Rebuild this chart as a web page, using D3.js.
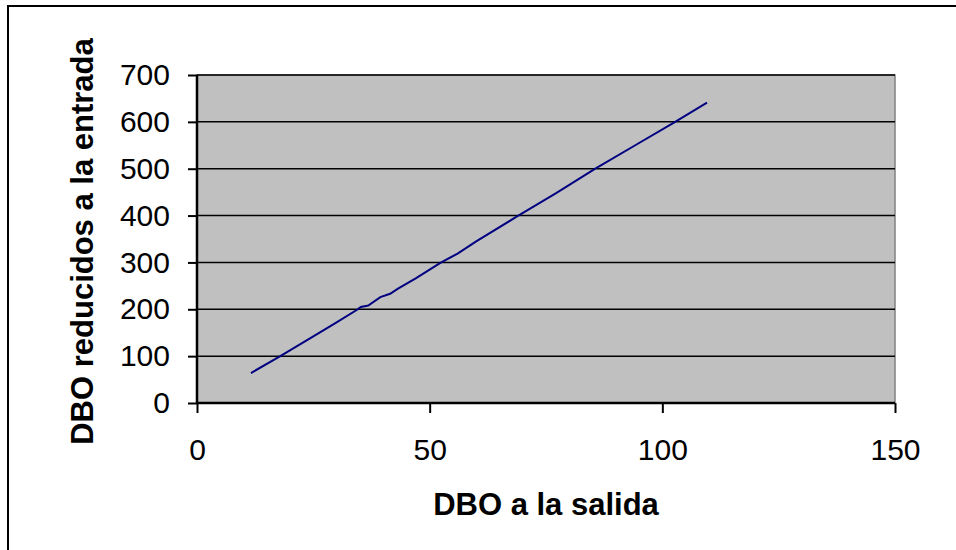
<!DOCTYPE html>
<html>
<head>
<meta charset="utf-8">
<script src="https://cdn.jsdelivr.net/npm/d3@7/dist/d3.min.js"></script>
<style>
  html, body { margin: 0; padding: 0; background: #fff; }
  svg { display: block; font-family: Arial, "Liberation Sans", sans-serif; }
</style>
</head>
<body>
<svg id="chart" width="956" height="550"></svg>
<script>
// DBO at the outlet (x) vs. DBO removed at the inlet (y)
const dboSalida = [11.6, 17.9, 25, 30, 34.4, 35.2, 36.8, 39.4, 41.5, 43.2, 47, 52.3, 56, 60, 68.6, 77, 85.6, 94, 102.4, 109.6];
const dboReducidos = [64, 100, 142, 172, 199, 205, 208, 226, 233, 244, 266, 299, 319, 345, 397, 447, 500, 549, 598, 641];
const xTicks = [0, 50, 100, 150];
const yTicks = [0, 100, 200, 300, 400, 500, 600, 700];
const xTitle = "DBO a la salida";
const yTitle = "DBO reducidos a la entrada";

const svg = d3.select("#chart");
const plot = { left: 197, right: 895, top: 75, bottom: 403 };

// outer chart frame
svg.append("rect")
  .attr("x", 8).attr("y", 6)
  .attr("width", 1000).attr("height", 600)
  .attr("fill", "none").attr("stroke", "#000").attr("stroke-width", 2);

const x = d3.scaleLinear().domain([0, 150]).range([plot.left, plot.right]);
const y = d3.scaleLinear().domain([0, 700]).range([plot.bottom, plot.top]);

// plot area
svg.append("rect")
  .attr("x", plot.left).attr("y", plot.top)
  .attr("width", plot.right - plot.left).attr("height", plot.bottom - plot.top)
  .attr("fill", "#c0c0c0").attr("stroke", "#808080").attr("stroke-width", 1.5);

// horizontal gridlines
svg.append("g").selectAll("line")
  .data(yTicks.filter(d => d > 0))
  .join("line")
  .attr("x1", plot.left).attr("x2", plot.right)
  .attr("y1", d => y(d)).attr("y2", d => y(d))
  .attr("stroke", "#000").attr("stroke-width", 1.5);

// y axis
const yAxis = svg.append("g")
  .attr("transform", `translate(${plot.left},0)`)
  .call(d3.axisLeft(y).tickValues(yTicks).tickSize(9).tickPadding(18).tickFormat(d3.format("d")));
yAxis.select(".domain").attr("stroke", "#000").attr("stroke-width", 2.5).attr("d", `M0,${plot.top}V${plot.bottom}`);
yAxis.selectAll(".tick line").attr("stroke", "#000").attr("stroke-width", 2);
yAxis.selectAll(".tick text").attr("font-size", 30).attr("fill", "#000")
  .attr("font-family", "Arial, 'Liberation Sans', sans-serif");

// x axis
const xAxis = svg.append("g")
  .attr("transform", `translate(0,${plot.bottom})`)
  .call(d3.axisBottom(x).tickValues(xTicks).tickSize(10).tickPadding(26).tickFormat(d3.format("d")));
xAxis.select(".domain").attr("stroke", "#000").attr("stroke-width", 2.5).attr("d", `M${plot.left},0H${plot.right}`);
xAxis.selectAll(".tick line").attr("stroke", "#000").attr("stroke-width", 2);
xAxis.selectAll(".tick text").attr("font-size", 30).attr("fill", "#000")
  .attr("font-family", "Arial, 'Liberation Sans', sans-serif");

// data line
const pts = dboSalida.map((d, i) => [d, dboReducidos[i]]);
svg.append("path")
  .datum(pts)
  .attr("fill", "none")
  .attr("stroke", "#000080")
  .attr("stroke-width", 2)
  .attr("d", d3.line().x(d => x(d[0])).y(d => y(d[1])));

// axis titles
svg.append("text")
  .attr("x", (plot.left + plot.right) / 2).attr("y", 515)
  .attr("text-anchor", "middle")
  .attr("font-size", 31).attr("font-weight", "bold")
  .text(xTitle);

svg.append("text")
  .attr("transform", `translate(93,${(33 + 450) / 2}) rotate(-90)`)
  .attr("text-anchor", "middle")
  .attr("font-size", 31).attr("font-weight", "bold")
  .text(yTitle);
</script>
</body>
</html>
